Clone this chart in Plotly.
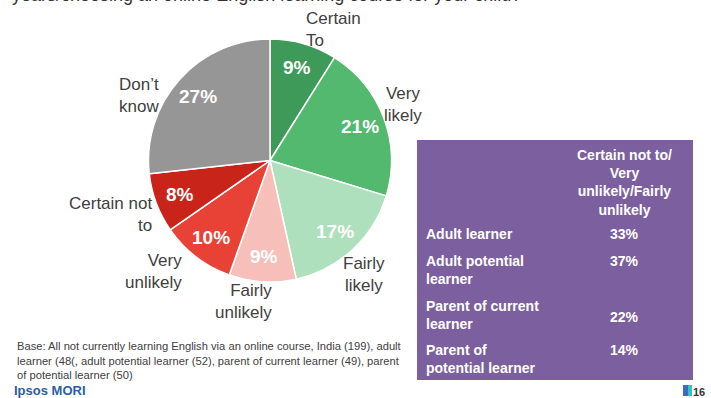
import math
import plotly.graph_objects as go

# ---- data ----
categories = ["Certain<br>To", "Very<br>likely", "Fairly<br>likely", "Fairly<br>unlikely",
              "Very<br>unlikely", "Certain not<br>to", "Don’t<br>know"]
shares = [9, 21, 17, 9, 10, 8, 27]
slice_colors = ["#3d9a58", "#52b96f", "#aee0bd", "#f6bfba", "#e84237", "#c8241a", "#969696"]

groups = ["Adult learner", "Adult potential<br>learner", "Parent of current<br>learner",
          "Parent of<br>potential learner"]
negative_share = [33, 37, 22, 14]
table_header = "Certain not to/<br>Very<br>unlikely/Fairly<br>unlikely"

title_text = "years/choosing an online English learning course for your child?"
base_note = ("Base: All not currently learning English via an online course, India (199), adult<br>"
             "learner (48(, adult potential learner (52), parent of current learner (49), parent<br>"
             "of potential learner (50)")

# ---- layout constants (pixels) ----
W, H = 711, 398
FONT = "Liberation Sans, Arial, sans-serif"
TXT = "#404040"
PURPLE = "#7b5f9e"


def px(x):
    return x / W


def py(y):
    return 1 - y / H


pie_left, pie_right, pie_top, pie_bottom = 148, 392, 39, 282
cx, cy = (pie_left + pie_right) / 2, (pie_top + pie_bottom) / 2
R = (pie_right - pie_left) / 2

fig = go.Figure()
fig.add_trace(go.Pie(
    labels=[c.replace("<br>", " ") for c in categories],
    values=shares,
    sort=False,
    direction="clockwise",
    rotation=0,
    marker=dict(colors=slice_colors, line=dict(color="white", width=1.5)),
    textinfo="none",
    hoverinfo="label+value",
    domain=dict(x=[px(pie_left), px(pie_right)], y=[py(pie_bottom), py(pie_top)]),
    showlegend=False,
))

annotations = []

# percentage labels inside each slice, placed at the slice's mid-angle
total = sum(shares)
cum = 0
for v in shares:
    mid = (cum + v / 2) / total * 2 * math.pi
    cum += v
    r = 0.79 * R
    x = cx + r * math.sin(mid)
    y = cy - r * math.cos(mid)
    annotations.append(dict(x=px(x), y=py(y), xref="paper", yref="paper",
                            text=f"<b>{v}%</b>", showarrow=False,
                            font=dict(family=FONT, size=19, color="white"),
                            xanchor="center", yanchor="middle"))

# category labels outside the pie: (anchor x, block centre y, alignment)
label_pos = [
    (305, 30, "left"),
    (403, 105, "center"),
    (364, 274, "center"),
    (273, 301, "right"),
    (183, 271, "right"),
    (153, 214, "right"),
    (160, 96, "right"),
]
for cat, (lx, ly, anchor) in zip(categories, label_pos):
    annotations.append(dict(x=px(lx), y=py(ly), xref="paper", yref="paper",
                            text=cat, showarrow=False, align=anchor, borderpad=0,
                            font=dict(family=FONT, size=17, color=TXT),
                            xanchor=anchor, yanchor="middle"))

# summary table on the right
tbl_left, tbl_right, tbl_top, tbl_bottom = 417, 693, 140, 380
col2_center = 624
row_label_y = [234, 270, 315, 359]
row_value_y = [234, 261, 317, 350]
annotations.append(dict(x=px(col2_center), y=py(182.5), xref="paper", yref="paper",
                        text=f"<b>{table_header}</b>", showarrow=False, align="center",
                        font=dict(family=FONT, size=14, color="white"),
                        xanchor="center", yanchor="middle"))
for g, v, yl, yv in zip(groups, negative_share, row_label_y, row_value_y):
    annotations.append(dict(x=px(424), y=py(yl), xref="paper", yref="paper",
                            text=f"<b>{g}</b>", showarrow=False, align="left",
                            font=dict(family=FONT, size=14, color="white"),
                            xanchor="left", yanchor="middle"))
    annotations.append(dict(x=px(col2_center), y=py(yv), xref="paper", yref="paper",
                            text=f"<b>{v}%</b>", showarrow=False,
                            font=dict(family=FONT, size=14, color="white"),
                            xanchor="center", yanchor="middle"))

# question text (runs off the top edge), base note, branding, page number
annotations += [
    dict(x=px(10), y=py(7), xref="paper", yref="paper", text=title_text, showarrow=False,
         font=dict(family=FONT, size=18, color="#333333"), xanchor="left", yanchor="bottom"),
    dict(x=px(15), y=py(360.5), xref="paper", yref="paper", text=base_note, showarrow=False,
         align="left", font=dict(family=FONT, size=11.2, color=TXT),
         xanchor="left", yanchor="middle"),
    dict(x=px(12), y=py(390), xref="paper", yref="paper", text="<b>Ipsos MORI</b>",
         showarrow=False, font=dict(family=FONT, size=13, color="#2a5ea8"),
         xanchor="left", yanchor="middle"),
    dict(x=px(699), y=py(392), xref="paper", yref="paper", text="<b>16</b>",
         showarrow=False, font=dict(family=FONT, size=11, color="#333333"),
         xanchor="center", yanchor="middle"),
]

shapes = [
    dict(type="rect", xref="paper", yref="paper",
         x0=px(tbl_left), x1=px(tbl_right), y0=py(tbl_bottom), y1=py(tbl_top),
         fillcolor=PURPLE, line=dict(width=0), layer="below"),
    dict(type="rect", xref="paper", yref="paper",
         x0=px(683), x1=px(688), y0=py(396), y1=py(385),
         fillcolor="#3b6cc4", line=dict(width=0)),
    dict(type="rect", xref="paper", yref="paper",
         x0=px(688), x1=px(692), y0=py(396), y1=py(385),
         fillcolor="#37c3c3", line=dict(width=0)),
]

fig.update_layout(
    width=W, height=H,
    margin=dict(l=0, r=0, t=0, b=0),
    paper_bgcolor="white", plot_bgcolor="white",
    annotations=annotations, shapes=shapes,
    showlegend=False,
)

fig.write_html("out.html")
